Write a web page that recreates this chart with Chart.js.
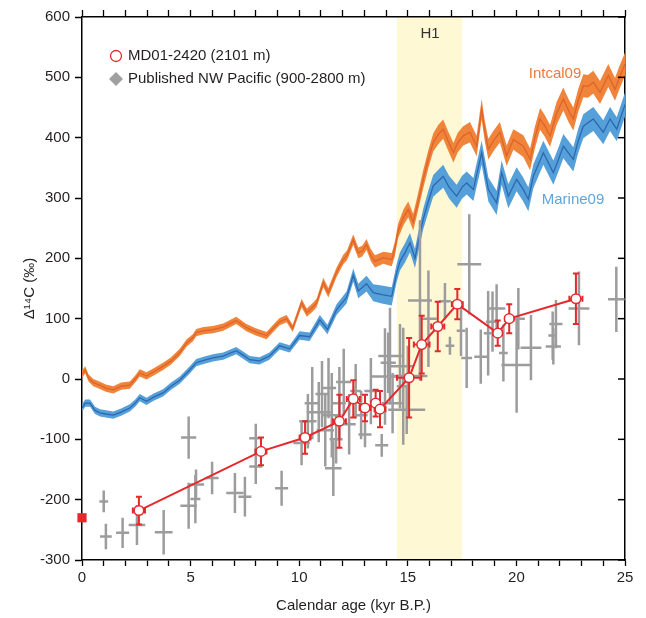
<!DOCTYPE html>
<html><head><meta charset="utf-8">
<script src="https://cdn.jsdelivr.net/npm/chart.js@4"></script>
<style>html,body{margin:0;padding:0;background:#fff;}#wrap{width:646px;height:618px;}</style>
</head><body><div id="wrap"><canvas id="c" width="646" height="618"></canvas></div>
<script>
// ---- data: [age kyr BP, Δ14C ‰, 1σ band half-width] ----
const intcal09 = [
[0.0,8,6],[0.15,15,6],[0.3,2,6],[0.52,-6,6],[0.8,-10,6],[1.1,-15,6],[1.44,-18,6],[1.8,-12,6],[2.2,-10,6],[2.45,0,6],
[2.66,10,6],[2.97,5,6],[3.3,12,6],[3.73,21,6],[4.1,30,6],[4.5,44,6],[4.82,60,6],[5.1,68,6],[5.26,77,6],[5.6,80,6],
[6.03,82,6],[6.5,86,6],[7.1,97,6],[7.57,85,6],[8.0,78,6],[8.5,72,6],[8.8,84,6],[9.1,95,6],[9.42,100,6],[9.7,84,6],
[10.11,126,7],[10.35,110,7],[10.6,118,7],[10.8,126,7],[11.11,160,8],[11.34,143,8],[11.72,177,8],[12.03,198,8],[12.2,205,8],[12.49,231,9],
[12.72,209,9],[12.9,212,9],[13.1,223,9],[13.3,205,10],[13.49,195,10],[13.87,201,10],[14.26,198,11],[14.4,215,12],[14.55,245,12],[14.8,268,13],
[15.02,281,13],[15.25,260,14],[15.45,290,14],[15.71,331,15],[15.95,365,15],[16.17,392,15],[16.4,405,16],[16.63,414,16],[16.85,395,16],[17.1,375,16],
[17.3,392,16],[17.55,403,16],[17.86,409,17],[18.17,386,17],[18.4,447,17],[18.55,410,17],[18.71,381,17],[18.95,395,17],[19.24,409,17],[19.55,370,17],
[19.86,397,17],[20.32,386,18],[20.63,364,18],[20.85,400,18],[21.09,431,18],[21.3,420,18],[21.55,403,18],[21.85,440,19],[22.16,464,19],[22.4,445,19],
[22.62,431,19],[22.85,462,19],[23.08,486,19],[23.3,485,19],[23.54,492,19],[23.85,475,19],[24.23,503,19],[24.54,480,19],[24.75,500,19],[25.0,522,19]
];
const marine09 = [
[0.0,-48,6],[0.15,-40,6],[0.37,-40,6],[0.6,-52,6],[0.83,-56,6],[1.1,-58,6],[1.44,-60,6],[1.8,-55,6],[2.2,-48,6],[2.45,-40,6],
[2.66,-31,6],[2.97,-37,6],[3.3,-30,6],[3.73,-23,6],[4.1,-12,6],[4.5,-2,6],[4.96,15,6],[5.26,27,6],[5.6,31,6],[6.03,35,6],
[6.5,38,6],[7.1,47,6],[7.4,40,6],[7.72,32,6],[8.17,30,6],[8.63,38,6],[9.1,55,6],[9.56,50,6],[10.02,72,7],[10.48,70,7],
[10.95,98,8],[11.3,82,8],[11.72,115,9],[12.18,135,10],[12.49,172,11],[12.72,146,12],[13.1,158,13],[13.41,143,14],[13.8,140,15],[14.26,137,15],
[14.49,176,15],[14.64,195,15],[14.87,209,16],[15.1,226,16],[15.33,200,16],[15.5,230,17],[15.71,265,17],[15.95,295,18],[16.17,320,18],[16.63,336,19],
[16.9,318,19],[17.25,303,19],[17.5,318,19],[17.71,325,19],[18.02,314,19],[18.4,375,20],[18.71,314,20],[19.09,292,20],[19.32,342,20],[19.63,303,20],
[20.01,331,20],[20.3,315,20],[20.55,298,20],[20.78,336,20],[21.24,375,20],[21.7,342,20],[21.95,365,20],[22.16,386,20],[22.62,364,20],[22.85,395,20],
[23.08,419,20],[23.54,431,20],[24.0,409,20],[24.31,431,20],[24.62,414,20],[25.0,455,20]
];
// MD01-2420: [age, Δ14C, ageErr, Δ14Cerr]
const md01 = [
[2.62,-218,0.28,23],[8.24,-120,0.25,23],[10.27,-97,0.25,27],[11.85,-70,0.3,44],[12.49,-33,0.3,31],
[13.03,-48,0.25,22],[13.52,-40,0.2,22],[13.72,-50,0.25,30],[15.06,2,0.56,66],[15.64,57,0.36,48],
[16.38,87,0.3,41],[17.28,124,0.25,25],[19.14,76,0.2,21],[19.67,100,0.2,24],[22.74,133,0.3,42]
];
const coreTop = [[0,-230]];
// Published NW Pacific: [age, Δ14C, ageErr, Δ14Cerr]
const nwPacific = [
[1.0,-203,0.2,18],[1.1,-261,0.27,21],[1.87,-255,0.3,25],[2.53,-242,0.38,33],[3.76,-254,0.41,37],
[4.91,-97,0.35,35],[4.91,-210,0.38,38],[5.22,-199,0.23,40],[5.25,-175,0.37,25],[5.99,-164,0.3,27],
[7.04,-189,0.4,33],[7.5,-195,0.3,33],[8.0,-145,0.3,29],[8.0,-98,0.3,24],[9.19,-181,0.3,29],
[10.11,-106,0.38,37],[10.4,-70,0.4,45],[10.6,-40,0.35,60],[10.9,-55,0.55,50],[11.05,-25,0.3,55],
[11.2,-85,0.4,60],[11.35,-15,0.35,50],[11.5,-60,0.45,70],[11.57,-148,0.38,46],[11.7,-100,0.3,40],
[11.85,-40,0.3,60],[12.05,-5,0.35,55],[12.3,-75,0.3,50],[12.6,-20,0.25,45],[12.85,-60,0.3,40],
[13.03,-92,0.3,21],[13.3,-20,0.3,55],[13.8,-110,0.3,19],[13.95,4,0.6,80],[14.1,27,0.35,50],
[14.18,38,0.54,80],[14.3,-40,0.5,50],[14.64,21,0.6,70],[14.79,-12,0.3,97],[14.95,-51,0.85,40],
[15.0,5,0.9,50],[15.56,130,0.55,133],[15.95,100,0.38,80],[16.71,129,0.27,30],[16.94,55,0.2,15],
[17.45,80,0.2,42],[17.71,35,0.25,50],[17.83,190,0.55,83],[18.36,37,0.3,45],[18.7,76,0.2,70],
[18.9,95,0.3,50],[19.09,117,0.4,40],[19.4,43,0.2,47],[20.01,23,0.7,79],[20.09,100,0.3,51],
[20.67,52,0.48,54],[21.67,72,0.2,40],[21.7,54,0.35,30],[21.82,91,0.3,40],[22.88,117,0.48,61],
[24.6,132,0.38,54]
];
const h1Band = [14.5, 17.5];
const xTicks = [0,5,10,15,20,25];
const yRange = [-300, 600];
const xRange = [0, 25];

const RED='#E4282C', GREY='#9C9C9C', FONT='"Liberation Sans", Arial, sans-serif', TXT='#231F20';

const pts = (arr, k) => arr.map(d => ({x:d[0], y:d[1] + (k||0)*(d[2]||0)}));

const deco = {
  id:'deco',
  beforeDraw(chart){
    const {ctx, chartArea:a, scales:{x}} = chart;
    ctx.save(); ctx.fillStyle='#FEF8D4';
    const x0=x.getPixelForValue(h1Band[0]), x1=x.getPixelForValue(h1Band[1]);
    ctx.fillRect(x0,a.top,x1-x0,a.bottom-a.top); ctx.restore();
  },
  afterDatasetDraw(chart,args){
    const ds = chart.data.datasets[args.index];
    const {ctx, scales:{x,y}} = chart;
    if (ds.label==='grey'){
      ctx.save(); ctx.strokeStyle=GREY; ctx.lineWidth=2.5; ctx.lineCap='butt';
      nwPacific.forEach(d=>{
        const px=x.getPixelForValue(d[0]), py=y.getPixelForValue(d[1]);
        ctx.beginPath();
        ctx.moveTo(x.getPixelForValue(d[0]-d[2]),py); ctx.lineTo(x.getPixelForValue(d[0]+d[2]),py);
        ctx.moveTo(px,y.getPixelForValue(d[1]-d[3])); ctx.lineTo(px,y.getPixelForValue(d[1]+d[3]));
        ctx.stroke();
      });
      ctx.restore();
    }
  },
  beforeDatasetDraw(chart,args){
    const ds = chart.data.datasets[args.index];
    const {ctx, scales:{x,y}} = chart;
    if (ds.label==='md01'){
      ctx.save(); ctx.strokeStyle=RED; ctx.lineWidth=2;
      md01.forEach(d=>{
        const px=x.getPixelForValue(d[0]), py=y.getPixelForValue(d[1]);
        const xl=x.getPixelForValue(d[0]-d[2]), xr=x.getPixelForValue(d[0]+d[2]);
        const yt=y.getPixelForValue(d[1]+d[3]), yb=y.getPixelForValue(d[1]-d[3]);
        ctx.beginPath();
        ctx.moveTo(xl,py); ctx.lineTo(xr,py);
        ctx.moveTo(xl,py-3); ctx.lineTo(xl,py+3);
        ctx.moveTo(xr,py-3); ctx.lineTo(xr,py+3);
        ctx.moveTo(px,yt); ctx.lineTo(px,yb);
        ctx.moveTo(px-3,yt); ctx.lineTo(px+3,yt);
        ctx.moveTo(px-3,yb); ctx.lineTo(px+3,yb);
        ctx.stroke();
      });
      ctx.restore();
    }
  },
  afterDraw(chart){
    const {ctx, chartArea:a, scales:{y}} = chart;
    ctx.save();
    // inward ticks on right axis
    ctx.strokeStyle='#000'; ctx.lineWidth=1.5;
    for(let v=yRange[0]; v<=yRange[1]; v+=100){
      const py=y.getPixelForValue(v);
      ctx.beginPath(); ctx.moveTo(a.right,py); ctx.lineTo(a.right-7,py); ctx.stroke();
    }
    ctx.fillStyle=TXT; ctx.font='15px '+FONT; ctx.textBaseline='middle';
    // titles
    ctx.textAlign='center';
    ctx.fillText('Calendar age (kyr B.P.)', (a.left+a.right)/2, 606);
    ctx.save(); ctx.translate(30,(a.top+a.bottom)/2); ctx.rotate(-Math.PI/2);
    ctx.fillText('\u0394\u00b9\u2074C (\u2030)',0,0); ctx.restore();
    ctx.fillStyle='#333'; ctx.fillText('H1', 430, 34);
    ctx.fillStyle='#EC7A3C'; ctx.fillText('Intcal09', 555, 74);
    ctx.fillStyle='#5EA6DE'; ctx.fillText('Marine09', 573, 200);
    // legend
    ctx.textAlign='left'; ctx.fillStyle=TXT;
    ctx.fillText('MD01-2420 (2101 m)', 128, 56);
    ctx.fillText('Published NW Pacific (900-2800 m)', 128, 79);
    ctx.strokeStyle=RED; ctx.lineWidth=1.3; ctx.beginPath(); ctx.arc(116,56,5.5,0,Math.PI*2); ctx.stroke();
    ctx.fillStyle='#A0A0A0'; ctx.beginPath();
    ctx.moveTo(116,72); ctx.lineTo(123,79); ctx.lineTo(116,86); ctx.lineTo(109,79); ctx.closePath(); ctx.fill();
    ctx.restore();
  }
};

const tickFont = {family:FONT, size:15};
const chart = new Chart(document.getElementById('c'), {
  type:'scatter',
  data:{datasets:[
    {label:'intcalUp', data:pts(intcal09,1), showLine:true, borderWidth:0, pointRadius:0, fill:false, order:10},
    {label:'intcalLo', data:pts(intcal09,-1), showLine:true, borderWidth:0, pointRadius:0, fill:'-1', backgroundColor:'#F0843A', order:10},
    {label:'intcalMid', data:pts(intcal09,0), showLine:true, borderColor:'#DE642A', borderWidth:1.3, pointRadius:0, order:9},
    {label:'marineUp', data:pts(marine09,1), showLine:true, borderWidth:0, pointRadius:0, fill:false, order:8},
    {label:'marineLo', data:pts(marine09,-1), showLine:true, borderWidth:0, pointRadius:0, fill:'-1', backgroundColor:'#56A0DA', order:8},
    {label:'marineMid', data:pts(marine09,0), showLine:true, borderColor:'#2C68B0', borderWidth:1.3, pointRadius:0, order:7},
    {label:'grey', data:nwPacific.map(d=>({x:d[0],y:d[1]})), pointRadius:0, showLine:false, order:3},
    {label:'md01', data:md01.map(d=>({x:d[0],y:d[1]})), showLine:true, borderColor:RED, borderWidth:2,
      pointRadius:4.8, pointBackgroundColor:'#fff', pointBorderColor:RED, pointBorderWidth:1.5, order:1},
    {label:'top', data:coreTop.map(d=>({x:d[0],y:d[1]})), pointStyle:'rect', pointRadius:6.5, pointBackgroundColor:RED,
      pointBorderColor:RED, pointBorderWidth:0, clip:false, order:0}
  ]},
  options:{
    responsive:false, animation:false, devicePixelRatio:1,
    plugins:{legend:{display:false}, tooltip:{enabled:false}},
    layout:{padding:0},
    scales:{
      x:{type:'linear', position:'bottom', min:xRange[0], max:xRange[1],
        ticks:{stepSize:1, autoSkip:false, maxRotation:0, font:tickFont, color:TXT, padding:3,
          callback:v => xTicks.includes(v) ? String(v) : ''},
        grid:{drawOnChartArea:false, drawTicks:true, tickLength:6, color:'#000', tickWidth:1.3},
        border:{display:true, color:'#000', width:1.5},
        afterFit:s=>{s.height=58;}},
      x2:{type:'linear', position:'top', min:xRange[0], max:xRange[1],
        ticks:{stepSize:1, autoSkip:false, callback:()=>'' , font:tickFont},
        grid:{drawOnChartArea:false, drawTicks:true, tickLength:7, color:'#000', tickWidth:1.3},
        border:{display:true, color:'#000', width:1.5},
        afterFit:s=>{s.height=17;}},
      y:{type:'linear', position:'left', min:yRange[0], max:yRange[1],
        ticks:{stepSize:100, font:tickFont, color:TXT, padding:5},
        grid:{drawOnChartArea:false, drawTicks:true, tickLength:7, color:'#000', tickWidth:1.5},
        border:{display:true, color:'#000', width:1.5},
        afterFit:s=>{s.width=82;}},
      y2:{type:'linear', position:'right', min:yRange[0], max:yRange[1],
        ticks:{display:false},
        grid:{drawOnChartArea:false, drawTicks:false},
        border:{display:true, color:'#000', width:1.5},
        afterFit:s=>{s.width=21;}}
    }
  },
  plugins:[deco]
});
</script></body></html>
